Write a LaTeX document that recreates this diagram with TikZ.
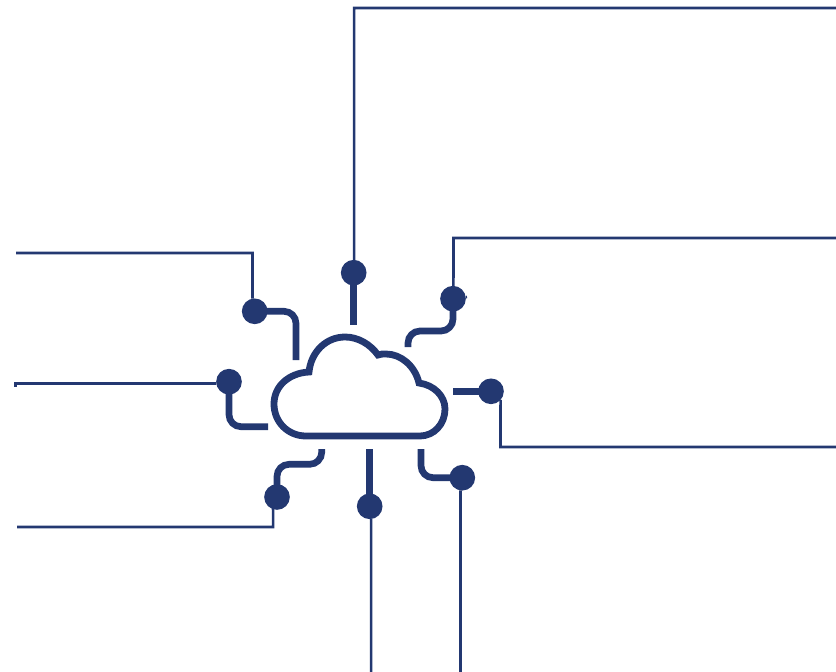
\documentclass[tikz,border=0pt]{standalone}
\usepackage{tikz}
\definecolor{navy}{HTML}{233871}
\tikzset{
  dot/.style={circle, fill=navy, inner sep=0pt, outer sep=0pt, minimum size=0.77cm},
  stub/.style={draw=navy, line width=5.7pt, rounded corners=0.36cm},
  wire/.style={draw=navy, line width=2.2pt},
  cloudline/.style={draw=navy, line width=5.8pt, line join=miter}
}

\begin{document}
\begin{tikzpicture}[x=0.03cm, y=-0.03cm]
    \useasboundingbox (0,0) rectangle (836,672);
    % cloud
    \draw[cloudline] (306,436) -- (420,436) .. controls (434,436) and (445,424) .. (445,409)
      .. controls (445,396) and (434,385) .. (419,383) .. controls (415,366) and (401,354) .. (386,354)
      .. controls (383,354) and (380,354) .. (378,355) .. controls (370,344) and (358,337) .. (345,337)
      .. controls (326,337) and (311,352) .. (309,372) .. controls (289,373) and (274,386) .. (274,404)
      .. controls (274,422) and (288,436) .. (306,436) -- cycle;
    % dots
    \node[dot] (top) at (353.7,272.7) {};
    \node[dot] (upright) at (453,298.7) {};
    \node[dot] (upleft) at (254.7,311.3) {};
    \node[dot] (left) at (229,381.7) {};
    \node[dot] (right) at (491,391.3) {};
    \node[dot] (downleft) at (277,497) {};
    \node[dot] (down) at (369.7,506.3) {};
    \node[dot] (downright) at (462.3,477.7) {};
    % ends of the thick stubs
    \coordinate (stubtop) at (353.7,325);
    \coordinate (stubupright) at (408,347);
    \coordinate (stubupleft) at (296,360);
    \coordinate (stubleft) at (268,426.7);
    \coordinate (stubright) at (453.3,391.3);
    \coordinate (stubdownleft) at (321.7,449);
    \coordinate (stubdown) at (369.7,449);
    \coordinate (stubdownright) at (421,449);
    \draw[stub] (top.center) -- (stubtop);
    \draw[stub] (upright.center) -- (453,331) -- (408,331) -- (stubupright);
    \draw[stub] (upleft.center) -- (296,311.3) -- (stubupleft);
    \draw[stub] (left.center) -- (229,426.7) -- (stubleft);
    \draw[stub] (right.center) -- (stubright);
    \draw[stub] (downleft.center) -- (277,464.3) -- (321.7,464.3) -- (stubdownleft);
    \draw[stub] (down.center) -- (stubdown);
    \draw[stub] (downright.center) -- (421,477.7) -- (stubdownright);
    % thin wires
    \coordinate (endtop) at (836,8);
    \coordinate (endupright) at (836,238);
    \coordinate (endupleft) at (16,253);
    \coordinate (endleft) at (14,383.49);
    \coordinate (endright) at (836,447);
    \coordinate (enddownleft) at (17,527);
    \coordinate (enddown) at (371.04,672);
    \coordinate (enddownright) at (460.5,672);
    \coordinate (nub) at (467,297);
    \coordinate (tick) at (15.7,387);
    \draw[wire] (top.88) -- (354.2,8) -- (endtop);
    \draw[wire] (upright.88) -- (453.5,238) -- (endupright);
    \draw[wire] (upright) -- (nub);
    \draw[wire] (upleft.100) -- (252.5,253) -- (endupleft);
    \draw[wire] (left.188) -- (endleft);
    \draw[wire] (endleft -| tick) -- (tick);
    \draw[wire] (right.-42) -- (500.5,447) -- (endright);
    \draw[wire] (downleft.-108) -- (273.1,527) -- (enddownleft);
    \draw[wire] (down.-84) -- (enddown);
    \draw[wire] (downright.-98) -- (enddownright);
  \end{tikzpicture}
\end{document}
